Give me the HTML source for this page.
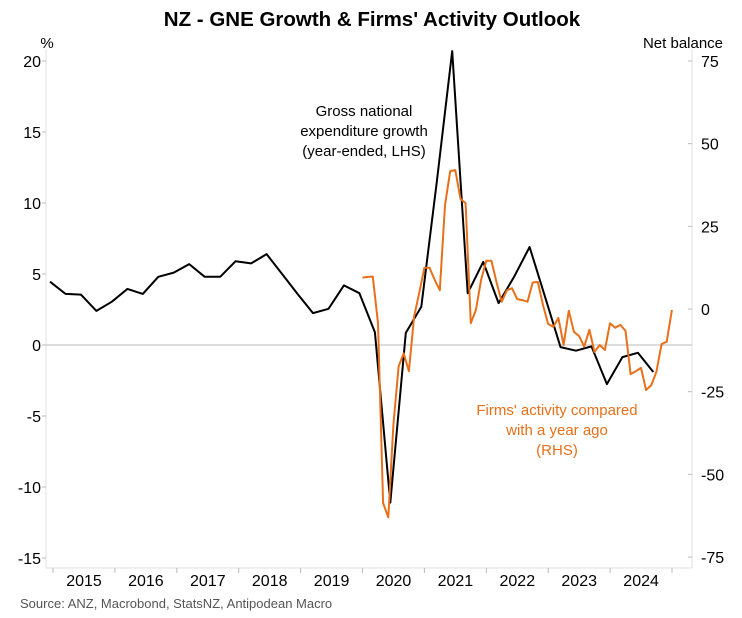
<!DOCTYPE html>
<html><head><meta charset="utf-8"><style>
body{margin:0;background:#fff;}
svg{display:block;font-family:"Liberation Sans",Arial,sans-serif;}
</style></head><body>
<svg id="chart" width="742" height="618" viewBox="0 0 742 618" xmlns="http://www.w3.org/2000/svg">
<rect width="742" height="618" fill="#fff"/>
<text x="372" y="26" text-anchor="middle" font-size="20.5" font-weight="bold" fill="#000">NZ - GNE Growth &amp; Firms' Activity Outlook</text>
<text x="47" y="48" text-anchor="middle" font-size="15" fill="#000">%</text>
<text x="683" y="48" text-anchor="middle" font-size="15" fill="#000">Net balance</text>
<g id="axes"></g>
<g id="series"></g>
<text font-size="15" fill="#000" text-anchor="middle">
<tspan x="364" y="116">Gross national</tspan><tspan x="364" y="136">expenditure growth</tspan><tspan x="364" y="156">(year-ended, LHS)</tspan></text>
<text font-size="15" fill="#e8701a" text-anchor="middle">
<tspan x="557" y="415">Firms' activity compared</tspan><tspan x="557" y="435">with a year ago</tspan><tspan x="557" y="455">(RHS)</tspan></text>
<text x="20" y="608" font-size="13" fill="#555">Source: ANZ, Macrobond, StatsNZ, Antipodean Macro</text>
</svg>
<script>
const years=["2015","2016","2017","2018","2019","2020","2021","2022","2023","2024"];
const leftTicks=[20,15,10,5,0,-5,-10,-15];
const rightTicks=[75,50,25,0,-25,-50,-75];
// GNE quarterly, from 2014Q4
const gne=[4.46,3.6,3.55,2.4,3.05,3.95,3.6,4.8,5.1,5.7,4.8,4.8,5.9,5.75,6.4,5.0,3.6,2.25,2.55,4.2,3.65,0.9,-11.1,0.85,2.7,11.5,20.7,3.65,5.85,2.95,4.8,6.9,3.4,-0.15,-0.4,-0.1,-2.75,-0.85,-0.55,-1.9];
// Firms' activity monthly, starting mid-2019
const firms=[9.5,9.7,9.8,-4.3,-58.7,-63,-35,-17.4,-13.4,-18.8,-2.3,4.8,12.5,12.5,8.8,5.7,31.4,41.7,42,33.3,32,-4.3,-0.3,8.8,14.6,14.6,8,2.2,5.7,6.3,3,2.7,2.2,8,8.2,1.2,-4.5,-5.4,-2.7,-10.9,-0.5,-6.9,-8.2,-11.4,-6.3,-13,-10.9,-12.4,-4.3,-5.7,-4.8,-6.6,-19.7,-18.8,-17.8,-24.5,-23,-19,-10.6,-9.9,-0.3];
const gneStart=0, firmsStartQ=20.2;
const L=46,R=692,T=50,B=568;
const qx=q=>50+15.47*q;
const yL=v=>345-v*14.2;
const yR=v=>309-v*3.307;
const NS="http://www.w3.org/2000/svg";
const axes=document.getElementById('axes'), series=document.getElementById('series');
function mk(tag,attrs,parent){const e=document.createElementNS(NS,tag);for(const k in attrs)e.setAttribute(k,attrs[k]);parent.appendChild(e);return e;}
let e;
e=mk('line',{x1:L,y1:T,x2:L,y2:B,stroke:'#e2e2e2'},axes);


e=mk('line',{x1:R,y1:T,x2:R,y2:B,stroke:'#e2e2e2'},axes);


e=mk('line',{x1:L,y1:B,x2:R,y2:B,stroke:'#e2e2e2'},axes);


e=mk('line',{x1:L,y1:yL(0),x2:R,y2:yL(0),stroke:'#c8c8c8','stroke-width':1.2},axes);


leftTicks.forEach(v=>{
  mk('line',{x1:L-4,y1:yL(v),x2:L,y2:yL(v),stroke:'#bbb'},axes);
  const t=mk('text',{x:41,y:yL(v)+6,'text-anchor':'end','font-size':16,fill:'#000'},axes);
  t.textContent=v;
  
  
});
rightTicks.forEach(v=>{
  mk('line',{x1:R-4,y1:yR(v),x2:R,y2:yR(v),stroke:'#bbb'},axes);
  const t=mk('text',{x:701,y:yR(v)+6,'text-anchor':'start','font-size':16,fill:'#000'},axes);
  t.textContent=v;
  
  
});
const yx=i=>53+61.9*i;
for(let i=0;i<=years.length;i++){mk('line',{x1:yx(i),y1:B,x2:yx(i),y2:B+5,stroke:'#bbb'},axes);}
years.forEach((y,i)=>{
  const t=mk('text',{x:yx(i)+31,y:B+18,'text-anchor':'middle','font-size':16,fill:'#000'},axes);
  t.textContent=y;
  
  
});
const clip=mk('clipPath',{id:'pc'},series);mk('rect',{x:L,y:T,width:R-L,height:B-T},clip);
const p1=gne.map((v,i)=>qx(gneStart+i).toFixed(1)+','+yL(v).toFixed(1)).join(' ');
e=mk('polyline',{points:p1,fill:'none',stroke:'#000','stroke-width':2,'stroke-linejoin':'round','clip-path':'url(#pc)'},series);


const p2=firms.map((v,j)=>qx(firmsStartQ+j/3).toFixed(1)+','+yR(v).toFixed(1)).join(' ');
e=mk('polyline',{points:p2,fill:'none',stroke:'#e8701a','stroke-width':2,'stroke-linejoin':'round','clip-path':'url(#pc)'},series);


</script>
</body></html>
